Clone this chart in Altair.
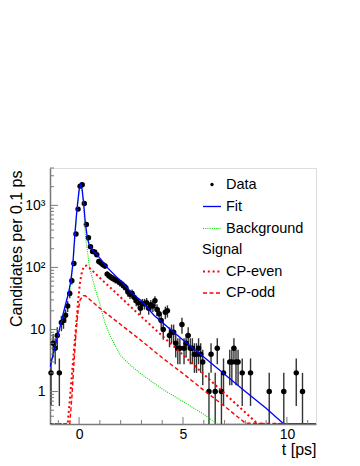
import altair as alt
import pandas as pd
import numpy as np

# ---------------- data ----------------
bin_width = 0.1
first_bin_center = -1.35
counts = [
    2, 6, 5, 8, 2, 13, 14, 17, 24, 38,
    61, 116, 345, 870, 2030, 2150, 1075, 490, 300, 215,
    180, 178, 160, 125, 118, 110, 105, 78, 73, 69,
    66, 63, 61, 57, 54, 50, 47, 40, 37, 38,
    33, 29, 27, 22, 26, 26, 27, 22, 25, 24,
    29, 21, 18, 14, 10, 19, 20, 8, 9, 9,
    6, 5, 5, 12, 5, 6, 8, 5, 5, 4,
    4, 5, 4, 3, 0, 0, 1, 4, 0, 1,
    5, 0, 1, 2, 0, 0, 3, 3, 5, 3,
    3, 0, 2, 0, 0, 0, 2, 0, 0, 0,
    0, 0, 0, 0, 0, 1, 0, 0, 0, 0,
    0, 0, 1, 0, 0, 0, 0, 0, 2, 0,
    0, 1, 0, 0, 0, 0, 0, 0,
]

fit_t = [-1.4, -1.0, -0.7, -0.5, -0.4, -0.3, -0.2, -0.1, 0.0, 0.08, 0.15, 0.22, 0.3, 0.4, 0.5,
         0.65, 1.0, 1.35, 2.0, 2.6, 3.0, 3.6, 4.4, 5.0, 6.0, 7.0, 8.0, 9.0, 9.85, 11.4]
fit_v = [2.5, 8.5, 22, 40, 60, 115, 355, 890, 1780, 2190, 1780, 1070, 525, 295, 224,
         190, 141, 100, 60, 37, 29, 17, 10, 6.8, 3.6, 1.9, 1.0, 0.54, 0.30, 0.1]

bkg_t = [-1.4, -1.0, -0.7, -0.5, -0.4, -0.3, -0.2, -0.1, 0.0, 0.08, 0.15, 0.22, 0.3, 0.4, 0.5,
         0.75, 1.0, 1.25, 1.5, 1.75, 2.0, 2.5, 3.0, 4.0, 5.0, 6.0, 6.65, 11.4]
bkg_v = [2.4, 8.2, 21, 37, 54, 100, 300, 800, 1650, 2050, 1650, 900, 330, 185, 100,
         48, 26, 12.6, 7.9, 5.4, 3.8, 2.6, 1.9, 1.1, 0.69, 0.43, 0.30, 0.1]

even_t = [-1.4, -0.55, -0.45, -0.35, -0.25, -0.15, -0.05, 0.05, 0.15, 0.25, 0.35, 0.5,
          1.0, 2.0, 3.0, 4.0, 5.0, 6.0, 7.0, 8.0, 8.6, 11.4]
even_v = [0.1, 0.30, 0.71, 1.8, 4.5, 11, 28, 60, 89, 105, 107, 98,
          68, 33, 16, 7.9, 3.9, 1.9, 0.93, 0.46, 0.30, 0.1]

odd_t = [-1.4, -0.45, -0.35, -0.25, -0.15, -0.05, 0.05, 0.2, 0.3, 1.0, 2.0, 3.0,
         4.0, 5.0, 6.0, 7.0, 8.0, 11.4]
odd_v = [0.1, 0.30, 0.79, 2.8, 8.9, 20, 30, 35, 35, 22, 12, 6.6,
         3.5, 1.95, 1.05, 0.58, 0.31, 0.1]

x_major_ticks = [0, 5, 10]
x_minor_ticks = [-1, 1, 2, 3, 4, 6, 7, 8, 9, 11]
y_major_ticks = [1, 10, 100, 1000]
y_minor_ticks = [0.4, 0.5, 0.6, 0.7, 0.8, 0.9, 2, 3, 4, 5, 6, 7, 8, 9,
                 20, 30, 40, 50, 60, 70, 80, 90, 200, 300, 400, 500, 600, 700, 800, 900,
                 2000, 3000, 4000]

# ---------------- chart ----------------
FONT = "Liberation Sans"
W, H = 266, 256
AXC = "#7a7a7a"

xs = alt.Scale(domain=[-1.4, 11.4], nice=False, zero=False)
ys = alt.Scale(type="log", domain=[0.3, 4000], nice=False, clamp=True)

y_label_expr = ("datum.value == 1000 ? '10³' : datum.value == 100 ? '10²' : "
                "datum.value == 10 ? '10' : '1'")

X_AXIS = alt.Axis(
    values=x_major_ticks, ticks=False, tickSize=0, grid=False, labelFontSize=14,
    labelPadding=3, labelColor="black", labelFont=FONT, domainColor=AXC, domainWidth=1.5,
    title="t [ps]", titleFont=FONT, titleFontSize=16, titleFontWeight="normal",
    titleColor="black", titleAlign="right", titleBaseline="alphabetic",
    titleX=W, titleY=30.5, labelFlush=False)
Y_AXIS = alt.Axis(
    values=y_major_ticks, labelExpr=y_label_expr, ticks=False, tickSize=0, grid=False,
    labelFontSize=14, labelPadding=5, labelColor="black", labelFont=FONT,
    domainColor=AXC, domainWidth=1.5,
    title="Candidates per 0.1 ps", titleFont=FONT, titleFontSize=16,
    titleFontWeight="normal", titleColor="black", titleAngle=270, titleAlign="right",
    titleBaseline="middle", titleX=-34, titleY=2)


def X(field):
    return alt.X(field, scale=xs, axis=X_AXIS)


def Y(field):
    return alt.Y(field, scale=ys, axis=Y_AXIS)


centers = np.round(first_bin_center + bin_width * np.arange(len(counts)), 2)
data_df = pd.DataFrame({"t": centers, "v": counts})

base = alt.Chart(data_df).transform_filter("datum.v > 0").transform_calculate(
    lo="max(datum.v - sqrt(datum.v), 0.01)", hi="datum.v + sqrt(datum.v)"
)

errbars = base.mark_rule(color="#333333", strokeWidth=1.4).encode(
    x=X("t:Q"), y=Y("lo:Q"), y2="hi:Q")
points = base.mark_circle(color="black", size=30, opacity=1).encode(
    x=X("t:Q"), y=Y("v:Q"))


def curve(ts, vs, color, dash, width):
    df = pd.DataFrame({"t": ts, "v": vs})
    kw = dict(color=color, strokeWidth=width, clip=True)
    if dash:
        kw["strokeDash"] = dash
    return alt.Chart(df).mark_line(**kw).encode(
        x=X("t:Q"), y=Y("v:Q"), order="t:Q")


GREEN, BLUE, RED = "#00dd00", "#0000ff", "#ff0000"
bkg_line = curve(bkg_t, bkg_v, GREEN, [1, 1.2], 1.1)
fit_line = curve(fit_t, fit_v, BLUE, None, 1.3)
even_line = curve(even_t, even_v, RED, [2, 2.8], 2)
odd_line = curve(odd_t, odd_v, RED, [4, 2.5], 1.4)


# inner ticks (ROOT style)
def yticks(vals, length):
    return alt.Chart(pd.DataFrame({"v": vals})).mark_rule(color=AXC, strokeWidth=1).encode(
        y=Y("v:Q"), x=alt.value(0), x2=alt.value(length))


def xticks(vals, length):
    return alt.Chart(pd.DataFrame({"t": vals})).mark_rule(color=AXC, strokeWidth=1).encode(
        x=X("t:Q"), y=alt.value(H), y2=alt.value(H - length))


tick_layers = [yticks(y_major_ticks, 8), yticks(y_minor_ticks, 4),
               xticks(x_major_ticks, 7), xticks(x_minor_ticks, 4)]

# legend
one = pd.DataFrame({"a": [0]})
LX0, LX1, TX = 153, 171, 176
rows = [16.5, 38.5, 60.5, 82, 103.5, 125]


def leg_text(txt, x, y):
    return alt.Chart(one).mark_text(text=txt, align="left", baseline="middle", fontSize=14.5,
                                    font=FONT, color="black").encode(
        x=alt.value(x), y=alt.value(y))


def leg_line(y, color, dash, width):
    kw = dict(color=color, strokeWidth=width)
    if dash:
        kw["strokeDash"] = dash
    return alt.Chart(one).mark_rule(**kw).encode(
        x=alt.value(LX0), x2=alt.value(LX1), y=alt.value(y))


leg = [
    alt.Chart(one).mark_circle(color="black", size=11, opacity=1).encode(
        x=alt.value((LX0 + LX1) / 2), y=alt.value(rows[0])),
    leg_text("Data", TX, rows[0]),
    leg_line(rows[1], BLUE, None, 1.3),
    leg_text("Fit", TX, rows[1]),
    leg_line(rows[2], GREEN, [1, 1.2], 1.1),
    leg_text("Background", TX, rows[2]),
    leg_text("Signal", 152, rows[3]),
    leg_line(rows[4], RED, [2, 2.8], 2),
    leg_text("CP-even", TX, rows[4]),
    leg_line(rows[5], RED, [4, 2.5], 1.4),
    leg_text("CP-odd", TX, rows[5]),
]

chart = alt.layer(
    errbars, points, bkg_line, fit_line, even_line, odd_line, *tick_layers, *leg
).properties(
    width=W, height=H,
    autosize=alt.AutoSizeParams(type="none"),
    padding={"left": 42, "top": 160, "right": 36, "bottom": 34},
).configure_view(stroke="#444444", strokeWidth=1).configure(font=FONT)

chart.save("out.html", embed_options={"renderer": "svg", "actions": False})
